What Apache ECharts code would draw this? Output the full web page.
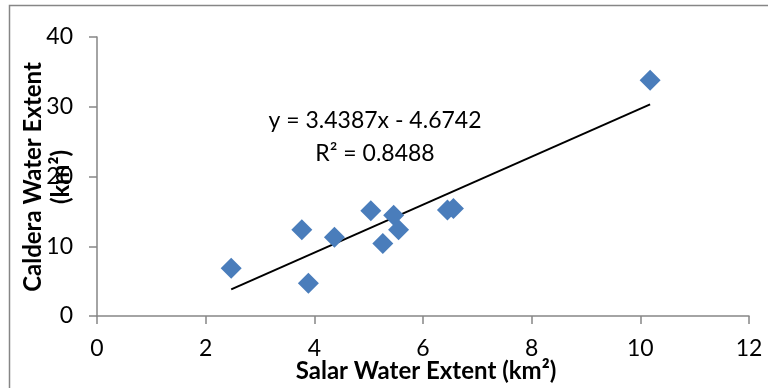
<!DOCTYPE html>
<html><head><meta charset="utf-8">
<script src="https://cdn.jsdelivr.net/npm/echarts@6/dist/echarts.min.js"></script>
<style>html,body{margin:0;padding:0;background:#fff}#c{width:768px;height:388px}</style>
</head><body><div id="c"></div>
<script>
// Data
var salarX = [2.47, 3.77, 3.89, 4.37, 5.04, 5.46, 5.26, 5.55, 6.45, 6.56, 10.18];
var calderaY = [6.85, 12.35, 4.7, 11.3, 15.1, 14.45, 10.4, 12.35, 15.2, 15.4, 33.8];
var trendX = [2.47, 10.18];
var trendY = [3.82, 30.33];
var xTicks = [0, 2, 4, 6, 8, 10, 12];
var yTicks = [0, 10, 20, 30, 40];
var eqLine1 = 'y = 3.4387x - 4.6742';
var eqLine2 = 'R² = 0.8488';
var xTitle = 'Salar Water Extent (km²)';
var yTitle1 = 'Caldera Water Extent';
var yTitle2 = '(km²)';

var pts = salarX.map(function(x, i){ return [x, calderaY[i]]; });
var trend = trendX.map(function(x, i){ return [x, trendY[i]]; });
var FONT = 'Lato, "Open Sans", sans-serif';
var axisCol = '#868686';

var chart = echarts.init(document.getElementById('c'), null, {renderer: 'canvas'});
chart.setOption({
  animation: false,
  grid: {left: 97, right: 19, top: 37, bottom: 72},
  xAxis: {
    type: 'value', min: xTicks[0], max: xTicks[xTicks.length-1], interval: 2,
    axisLine: {onZero: false, lineStyle: {color: axisCol, width: 1.5}},
    axisTick: {show: true, inside: false, length: 8, lineStyle: {color: axisCol, width: 1.5}},
    axisLabel: {margin: 21, fontSize: 23, color: '#000', fontFamily: FONT},
    splitLine: {show: false}
  },
  yAxis: {
    type: 'value', min: yTicks[0], max: yTicks[yTicks.length-1], interval: 10,
    axisLine: {show: true, onZero: false, lineStyle: {color: axisCol, width: 1.5}},
    axisTick: {show: true, inside: false, length: 8, lineStyle: {color: axisCol, width: 1.5}},
    axisLabel: {margin: 24, fontSize: 23, color: '#000', fontFamily: FONT},
    splitLine: {show: false}
  },
  series: [
    {type: 'line', data: trend, symbol: 'none', lineStyle: {color: '#000', width: 2}, z: 2},
    {type: 'scatter', data: pts, symbol: 'diamond', symbolSize: 21,
     itemStyle: {color: '#4a7dbb', opacity: 1}, z: 3}
  ],
  graphic: [
    {type: 'rect', shape: {x: 9.5, y: 5.5, width: 770, height: 400}, style: {fill: 'none', stroke: axisCol, lineWidth: 1.5}, silent: true, z: -1},
    {type: 'text', x: 375, y: 121, style: {text: eqLine1, font: '23px ' + FONT, fill: '#000', align: 'center', verticalAlign: 'middle'}},
    {type: 'text', x: 375, y: 154, style: {text: eqLine2, font: '23px ' + FONT, fill: '#000', align: 'center', verticalAlign: 'middle'}},
    {type: 'text', x: 426, y: 371, style: {text: xTitle, font: 'bold 24px ' + FONT, fill: '#000', align: 'center', verticalAlign: 'middle'}},
    {type: 'text', x: 33, y: 177, rotation: Math.PI/2, style: {text: yTitle1, font: 'bold 24px ' + FONT, fill: '#000', align: 'center', verticalAlign: 'middle'}},
    {type: 'text', x: 61, y: 177, rotation: Math.PI/2, style: {text: yTitle2, font: 'bold 24px ' + FONT, fill: '#000', align: 'center', verticalAlign: 'middle'}}
  ]
});
</script>
</body></html>
